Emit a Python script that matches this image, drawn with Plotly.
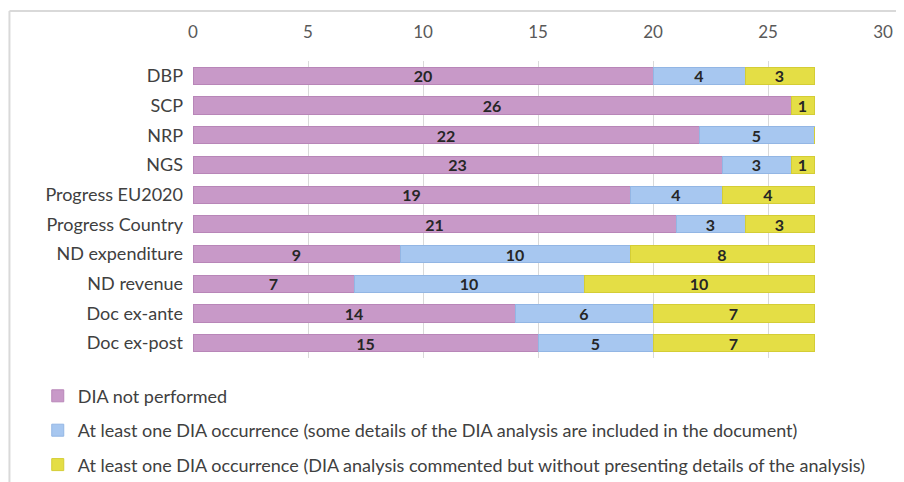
import plotly.graph_objects as go

# categories, top to bottom
categories = ["DBP", "SCP", "NRP", "NGS", "Progress EU2020", "Progress Country",
              "ND expenditure", "ND revenue", "Doc ex-ante", "Doc ex-post"]

not_performed = [20, 26, 22, 23, 19, 21, 9, 7, 14, 15]
with_details = [4, 0, 5, 3, 4, 3, 10, 10, 6, 5]
commented = [3, 1, 0, 1, 4, 3, 8, 10, 7, 7]

series_names = [
    "DIA not performed",
    "At least one DIA occurrence (some details of the DIA analysis are included in the document)",
    "At least one DIA occurrence (DIA analysis commented but without presenting details of the analysis)",
]
colors = ["#C899C8", "#A7C7F0", "#E4DE45"]
edges = ["#B886B8", "#93B6E4", "#D4CD35"]

fnt = "Lato, sans-serif"

fig = go.Figure()
for i, (name, vals) in enumerate(zip(series_names, [not_performed, with_details, commented])):
    fig.add_trace(go.Bar(
        y=categories, x=vals, name=name, orientation="h",
        marker=dict(color=colors[i], line=dict(color=edges[i], width=1)),
        text=[str(v) if v else "" for v in vals],
        textposition="inside", insidetextanchor="middle", textangle=0,
        constraintext="none",
        textfont=dict(family=fnt, size=16, color="#262626", weight="bold"),
        legendgroup=str(i),
    ))

# page body has an 8px margin, so the figure is drawn 8px in from the corner
fig.update_layout(
    width=896, height=474,
    margin=dict(l=185, r=21, t=53, b=124, autoexpand=False),
    barmode="stack", bargap=0.42,
    plot_bgcolor="white", paper_bgcolor="white",
    font=dict(family=fnt, color="#404040"),
    showlegend=True,
    legend=dict(x=-0.225, y=-0.066, xanchor="left", yanchor="top",
                orientation="v", font=dict(size=18, color="#404040"),
                tracegroupgap=8, itemwidth=30),
    xaxis=dict(side="top", range=[0, 30], dtick=5, showgrid=True, automargin=False,
               gridcolor="#d9d9d9", zeroline=False, showline=False,
               tickfont=dict(size=17, color="#595959"), ticklabelstandoff=19),
    yaxis=dict(autorange="reversed", showgrid=False, showline=False, automargin=False,
               tickfont=dict(size=18, color="#404040"), ticklabelstandoff=9),
    uniformtext=dict(mode=False),
)

# light frame around chart (top and left edges)
fig.add_shape(type="line", xref="paper", yref="paper", x0=-0.266, x1=1.1, y0=1.168, y1=1.168,
              line=dict(color="#d9d9d9", width=2))
fig.add_shape(type="line", xref="paper", yref="paper", x0=-0.266, x1=-0.266, y0=1.168, y1=-0.5,
              line=dict(color="#d9d9d9", width=2))

fig.write_html("out.html")
